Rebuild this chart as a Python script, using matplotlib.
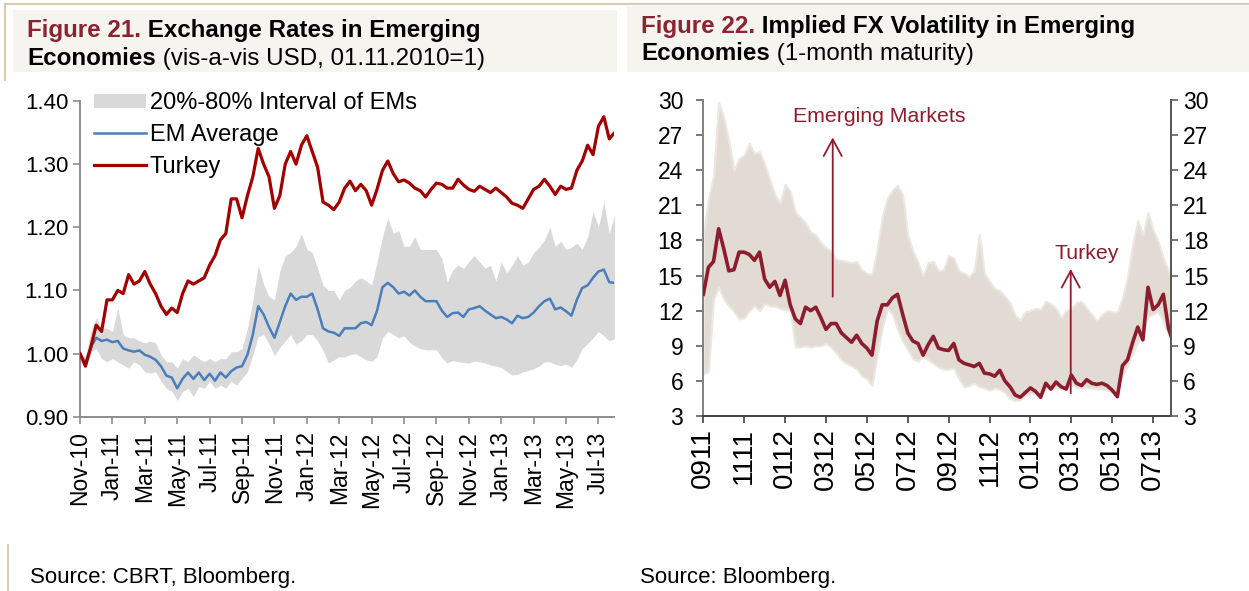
import numpy as np
import matplotlib
matplotlib.use("Agg")
import matplotlib.pyplot as plt
from matplotlib.patches import Rectangle
from matplotlib.lines import Line2D

plt.rcParams['font.family'] = ['Liberation Sans', 'DejaVu Sans']

# ---------------- data: Figure 21 (step = 1/3 month from 01.11.2010) ----------------
fx_months_per_step = 1 / 3
fx_tick_labels = ["Nov-10", "Jan-11", "Mar-11", "May-11", "Jul-11", "Sep-11", "Nov-11",
                  "Jan-12", "Mar-12", "May-12", "Jul-12", "Sep-12", "Nov-12", "Jan-13",
                  "Mar-13", "May-13", "Jul-13"]
turkey_fx = [1.00, 0.98, 1.01, 1.045, 1.035, 1.085, 1.085, 1.10, 1.095, 1.125,
             1.11, 1.115, 1.13, 1.11, 1.095, 1.075, 1.062, 1.072, 1.065, 1.095,
             1.115, 1.11, 1.115, 1.12, 1.14, 1.155, 1.18, 1.19, 1.245, 1.245,
             1.215, 1.25, 1.28, 1.325, 1.30, 1.28, 1.23, 1.25, 1.30, 1.32,
             1.30, 1.33, 1.345, 1.32, 1.295, 1.24, 1.235, 1.228, 1.24, 1.262,
             1.273, 1.258, 1.268, 1.258, 1.235, 1.26, 1.29, 1.305, 1.285, 1.272,
             1.275, 1.27, 1.262, 1.258, 1.248, 1.26, 1.27, 1.268, 1.262, 1.262,
             1.276, 1.267, 1.26, 1.257, 1.265, 1.26, 1.255, 1.262, 1.255, 1.248,
             1.238, 1.235, 1.23, 1.245, 1.26, 1.265, 1.276, 1.265, 1.252, 1.265,
             1.26, 1.262, 1.29, 1.305, 1.33, 1.315, 1.36, 1.375, 1.34, 1.35]
em_average = [1.00, 0.985, 1.01, 1.025, 1.02, 1.022, 1.018, 1.02, 1.008, 1.005,
              1.003, 1.005, 0.998, 0.995, 0.99, 0.98, 0.965, 0.962, 0.945, 0.96,
              0.97, 0.96, 0.97, 0.958, 0.968, 0.957, 0.97, 0.962, 0.972, 0.978,
              0.98, 0.998, 1.03, 1.075, 1.062, 1.042, 1.025, 1.05, 1.075, 1.095,
              1.085, 1.09, 1.09, 1.095, 1.07, 1.04, 1.035, 1.033, 1.028, 1.04,
              1.04, 1.04, 1.048, 1.05, 1.045, 1.068, 1.105, 1.112, 1.105, 1.095,
              1.098, 1.092, 1.10, 1.09, 1.083, 1.083, 1.083, 1.068, 1.058, 1.064,
              1.065, 1.058, 1.07, 1.072, 1.075, 1.068, 1.062, 1.056, 1.058, 1.054,
              1.048, 1.06, 1.056, 1.058, 1.065, 1.075, 1.083, 1.087, 1.07, 1.073,
              1.067, 1.06, 1.085, 1.104, 1.108, 1.12, 1.13, 1.133, 1.113, 1.112]
em_p80 = [1.0, 0.995, 1.035, 1.057, 1.04, 1.04, 1.035, 1.072, 1.03, 1.025,
          1.025, 1.02, 1.017, 1.02, 1.017, 0.998, 0.987, 0.987, 0.977, 0.992,
          0.987, 0.998, 0.992, 0.987, 0.992, 0.987, 0.992, 0.992, 1.003, 1.003,
          1.008, 1.04, 1.083, 1.14, 1.11, 1.09, 1.085, 1.13, 1.155, 1.16,
          1.17, 1.19, 1.165, 1.16, 1.135, 1.108, 1.10, 1.10, 1.085, 1.10,
          1.105, 1.115, 1.12, 1.115, 1.108, 1.145, 1.185, 1.215, 1.19, 1.195,
          1.17, 1.17, 1.185, 1.165, 1.165, 1.165, 1.165, 1.15, 1.113, 1.132,
          1.14, 1.135, 1.146, 1.155, 1.145, 1.135, 1.14, 1.115, 1.145, 1.128,
          1.14, 1.155, 1.14, 1.145, 1.16, 1.168, 1.18, 1.20, 1.17, 1.178,
          1.165, 1.168, 1.175, 1.165, 1.185, 1.225, 1.20, 1.24, 1.19, 1.22]
em_p20 = [0.992, 0.977, 1.003, 1.008, 0.992, 0.987, 0.992, 0.987, 0.982, 0.977,
          0.987, 0.982, 0.971, 0.969, 0.971, 0.956, 0.945, 0.94, 0.926, 0.94,
          0.945, 0.932, 0.948, 0.945, 0.956, 0.945, 0.95, 0.945, 0.956, 0.95,
          0.961, 0.971, 0.998, 1.027, 1.03, 1.015, 0.997, 1.01, 1.02, 1.03,
          1.015, 1.02, 1.03, 1.03, 1.02, 1.005, 0.985, 0.99, 0.995, 0.995,
          0.998, 1.0, 0.995, 0.99, 0.988, 0.995, 1.025, 1.035, 1.03, 1.025,
          1.028, 1.018, 1.012, 1.008, 1.006, 1.006, 1.006, 0.993, 0.985, 0.989,
          0.987, 0.986, 0.985, 0.988, 0.987, 0.985, 0.982, 0.98, 0.978, 0.972,
          0.966, 0.967, 0.971, 0.973, 0.976, 0.98, 0.987, 0.987, 0.983, 0.981,
          0.983, 0.978, 0.99, 1.008, 1.016, 1.025, 1.035, 1.028, 1.02, 1.024]

# ---------------- data: Figure 22 (step = 1/4 month from Sep-2011) ----------------
vol_months_per_step = 1 / 4
vol_tick_labels = ["0911", "1111", "0112", "0312", "0512", "0712", "0912", "1112",
                   "0113", "0313", "0513", "0713"]
turkey_vol = [13.4, 15.7, 16.2, 19.0, 17.3, 15.4, 15.5, 17.0, 17.0, 16.8,
              16.3, 17.0, 14.7, 14.0, 14.5, 13.3, 14.6, 12.5, 11.3, 10.9,
              12.3, 12.0, 12.3, 11.4, 10.4, 10.9, 10.9, 10.1, 9.7, 9.3,
              9.9, 9.2, 8.8, 8.2, 11.1, 12.5, 12.5, 13.1, 13.4, 11.7,
              10.1, 9.4, 9.2, 8.2, 9.1, 9.8, 8.8, 8.66, 8.6, 9.2,
              7.8, 7.5, 7.37, 7.23, 7.5, 6.66, 6.6, 6.4, 6.9, 6.0,
              5.5, 4.8, 4.6, 5.0, 5.4, 5.1, 4.6, 5.8, 5.3, 5.9,
              5.5, 5.3, 6.5, 5.8, 5.6, 6.1, 5.8, 5.7, 5.8, 5.6,
              5.2, 4.65, 7.3, 7.8, 9.3, 10.6, 9.5, 14.0, 12.1, 12.5,
              13.4, 10.5, 9.2]
em_vol_high = [18.5, 21.5, 23.5, 29.8, 28.5, 26.5, 24.0, 25.0, 25.3, 26.3,
               25.4, 25.6, 24.5, 23.2, 21.9, 21.2, 22.8, 22.2, 20.4, 20.0,
               19.5, 18.7, 18.5, 17.8, 17.4, 17.1, 16.4, 16.3, 16.2, 16.1,
               16.2, 15.5, 15.2, 15.1, 17.2, 20.0, 21.6, 22.3, 22.7, 21.9,
               18.5, 17.1, 16.1, 15.0, 16.1, 16.2, 15.4, 15.5, 16.7, 16.5,
               15.4, 15.2, 14.9, 15.4, 18.5, 15.2, 14.5, 13.9, 13.7, 13.2,
               12.7, 11.6, 11.2, 11.9, 12.0, 12.2, 12.1, 12.8, 12.6, 12.2,
               11.4, 12.0, 12.2, 12.7, 12.8, 12.2, 11.7, 11.1, 11.7, 12.0,
               11.9, 11.9, 13.1, 14.9, 17.7, 19.7, 18.5, 20.4, 18.9, 17.9,
               16.5, 15.4, 14.3]
em_vol_low = [6.6, 6.8, 13.0, 14.0, 13.0, 12.4, 11.9, 11.3, 11.4, 12.0,
              12.4, 12.0, 12.6, 12.4, 12.4, 12.2, 12.1, 12.0, 8.9, 8.9,
              9.0, 8.9, 9.0, 9.0, 9.2, 8.9, 8.4, 7.8, 7.5, 7.3,
              7.0, 6.4, 6.2, 5.6, 8.2, 10.5, 12.2, 11.7, 10.4, 9.4,
              8.7, 7.9, 7.7, 8.1, 7.8, 7.5, 7.2, 7.0, 7.0, 7.1,
              6.2, 5.5, 5.6, 5.8, 5.5, 5.4, 5.2, 5.4, 5.3, 5.0,
              4.5, 4.3, 4.4, 4.8, 4.9, 4.9, 4.85, 5.4, 5.25, 5.4,
              5.5, 5.4, 5.65, 5.4, 5.4, 5.4, 5.4, 5.3, 5.3, 5.2,
              5.1, 5.1, 6.5, 7.3, 8.4, 9.3, 9.9, 11.5, 11.7, 11.9,
              11.1, 9.9, 9.2]

# ---------------- colours ----------------
MAROON = '#8b2331'
TURKEY_RED = '#a00000'
EM_BLUE = '#4a7ebb'
BAND_GREY = '#d9d9d9'
VOL_RED = '#8c1d2e'
VOL_BAND = '#e1dbd4'
VOL_BAND_EDGE = '#ebe7e1'
BOX = '#f5f4ef'
RULE = '#d9ccb6'

W, H = 1249, 591
fig = plt.figure(figsize=(W / 100, H / 100), dpi=100)
fig.patch.set_facecolor('white')


def px(x):
    return x / W


def py(y):
    return 1 - y / H


# header boxes and rules
fig.add_artist(Rectangle((px(13), py(72)), px(617) - px(13), py(10) - py(72),
                         transform=fig.transFigure, facecolor=BOX, edgecolor='none', zorder=0))
fig.add_artist(Rectangle((px(627), py(72)), px(1249) - px(627), py(6) - py(72),
                         transform=fig.transFigure, facecolor=BOX, edgecolor='none', zorder=0))
fig.add_artist(Line2D([px(5), 1], [py(3.5), py(3.5)], transform=fig.transFigure, color=RULE, lw=1.5))
fig.add_artist(Line2D([px(5), px(5)], [py(3.5), py(80)], transform=fig.transFigure, color=RULE, lw=1.5))
fig.add_artist(Line2D([px(8), px(8)], [py(545), py(591)], transform=fig.transFigure, color=RULE, lw=1.5))

renderer = fig.canvas.get_renderer()


def rich(x, y, parts, size):
    cur = x
    for s, color, weight in parts:
        t = fig.text(cur, y, s, color=color, fontweight=weight, fontsize=size,
                     ha='left', va='baseline')
        bb = t.get_window_extent(renderer)
        cur = bb.x1 / fig.bbox.width


TS = 17.4
rich(px(27), py(37.5), [("Figure 21.", MAROON, 'bold'),
                        (" Exchange Rates in Emerging", 'black', 'bold')], TS)
rich(px(27), py(65), [("Economies", 'black', 'bold'),
                      (" (vis-a-vis USD, 01.11.2010=1)", 'black', 'normal')], TS)
rich(px(641), py(33), [("Figure 22.", MAROON, 'bold'),
                       (" Implied FX Volatility in Emerging", 'black', 'bold')], TS)
rich(px(641), py(60), [("Economies", 'black', 'bold'),
                       (" (1-month maturity)", 'black', 'normal')], TS)

fig.text(px(30), py(583), "Source: CBRT, Bloomberg.", fontsize=16, ha='left', va='baseline')
fig.text(px(640), py(583), "Source: Bloomberg.", fontsize=16, ha='left', va='baseline')

# ---------------- Figure 21 ----------------
ax1 = fig.add_axes([px(80), py(416.7), px(614) - px(80), py(101) - py(416.7)])
x1 = np.arange(len(turkey_fx)) * fx_months_per_step
ax1.fill_between(x1, em_p20, em_p80, color=BAND_GREY, lw=0, label='20%-80% Interval of EMs', zorder=1)
ax1.plot(x1, em_average, color=EM_BLUE, lw=1.8, label='EM Average', zorder=3)
ax1.plot(x1, turkey_fx, color=TURKEY_RED, lw=2.3, label='Turkey', zorder=4)
ax1.set_xlim(0, 32.96)
ax1.set_ylim(0.9, 1.4)
ax1.set_yticks(np.arange(0.9, 1.401, 0.1))
ax1.set_yticklabels([f"{v:.2f}" for v in np.arange(0.9, 1.401, 0.1)])
ax1.set_xticks(np.arange(len(fx_tick_labels)) * 2)
ax1.set_xticklabels(fx_tick_labels, rotation=90)
for s in ['top', 'right']:
    ax1.spines[s].set_visible(False)
for s in ['left', 'bottom']:
    ax1.spines[s].set_color('#8c8c8c')
    ax1.spines[s].set_linewidth(1.4)
ax1.tick_params(axis='y', direction='out', length=5, width=1.2, color='#8c8c8c', labelsize=16, pad=3.5)
ax1.tick_params(axis='x', direction='out', length=5, width=1.2, color='#8c8c8c', labelsize=16.5, pad=5.5)
ax1.patch.set_alpha(0)
leg = ax1.legend(loc='upper left', bbox_to_anchor=(0.026, 1.028), frameon=False, fontsize=17,
                 handlelength=2.2, handletextpad=0.17, labelspacing=0.42, handleheight=0.55,
                 borderpad=0, borderaxespad=0)

# ---------------- Figure 22 ----------------
ax2 = fig.add_axes([px(703.3), py(416), px(1170.7) - px(703.3), py(100) - py(416)])
x2 = np.arange(len(turkey_vol)) * vol_months_per_step
ax2.fill_between(x2, em_vol_low, em_vol_high, facecolor=VOL_BAND, edgecolor=VOL_BAND_EDGE, lw=1.5, zorder=1)
ax2.plot(x2, turkey_vol, color=VOL_RED, lw=2.6, zorder=3)
ax2.set_xlim(0, 22.86)
ax2.set_ylim(3, 30)
ax2.set_yticks(np.arange(3, 31, 3))
ax2.set_xticks(np.arange(len(vol_tick_labels)) * 2)
ax2.set_xticklabels(vol_tick_labels, rotation=90)
ax2.spines['top'].set_visible(False)
ax2.spines['left'].set_color('#808080')
ax2.spines['right'].set_color('#595959')
ax2.spines['bottom'].set_color('#404040')
for s in ['left', 'right', 'bottom']:
    ax2.spines[s].set_linewidth(1.4)
ax2.tick_params(axis='y', direction='out', length=5, width=1.2, color='#606060', labelsize=16.5, pad=9.5)
ax2.tick_params(axis='x', direction='out', length=5, width=1.2, color='#404040', labelsize=20, pad=3.5)
ax2.patch.set_alpha(0)

ax2r = ax2.twinx()
ax2r.set_ylim(3, 30)
ax2r.set_yticks(np.arange(3, 31, 3))
for s in ['top', 'left', 'bottom']:
    ax2r.spines[s].set_visible(False)
ax2r.spines['right'].set_color('#595959')
ax2r.spines['right'].set_linewidth(1.4)
ax2r.tick_params(axis='y', direction='out', length=5, width=1.2, color='#606060', labelsize=16.5, pad=4)

arrow_kw = dict(arrowstyle='->,head_length=1.2,head_width=0.65', color=VOL_RED, lw=1.3,
                mutation_scale=10, shrinkA=0, shrinkB=0)
ax2.annotate('', xy=(6.33, 26.8), xytext=(6.33, 13.2), arrowprops=arrow_kw, zorder=5)
ax2.annotate('', xy=(17.97, 15.56), xytext=(17.97, 4.94), arrowprops=arrow_kw, zorder=5)
ax2.text(4.40, 28.15, "Emerging Markets", color=VOL_RED, fontsize=15.3, ha='left', va='baseline')
ax2.text(17.2, 16.42, "Turkey", color=VOL_RED, fontsize=15.3, ha='left', va='baseline')

fig.savefig('out.png', dpi=100)
